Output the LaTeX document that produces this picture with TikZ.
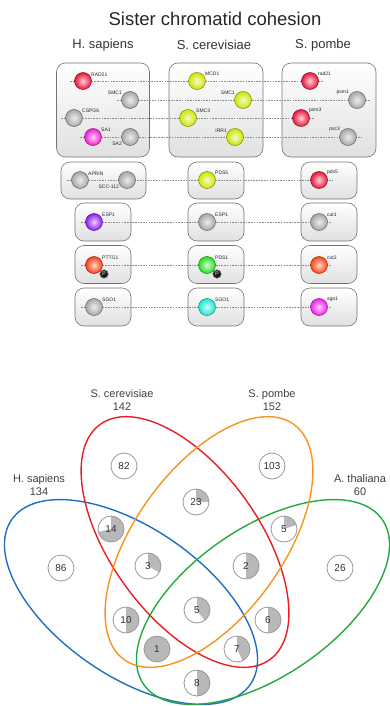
\documentclass[tikz,border=0pt]{standalone}
\usepackage{fontspec}
\setmainfont{Liberation Sans}
\usepackage{xcolor}
\usepackage{tikz}
\usetikzlibrary{shapes.geometric,positioning,calc,backgrounds}

\definecolor{cred}{HTML}{E8163C}
\definecolor{cgray}{HTML}{A6A6A6}
\definecolor{cmag}{HTML}{EE1ECF}
\definecolor{cyel}{HTML}{CDE600}
\definecolor{cviol}{HTML}{8A1EF0}
\definecolor{corg}{HTML}{FF3A14}
\definecolor{cgreen}{HTML}{22E01E}
\definecolor{ccyan}{HTML}{1EE6D2}
\definecolor{cpink}{HTML}{F01EEA}
\definecolor{hsblue}{HTML}{1E6FC3}
\definecolor{scred}{HTML}{E81E24}
\definecolor{sporange}{HTML}{F7931E}
\definecolor{atgreen}{HTML}{22AA3C}

\begin{document}
\begin{tikzpicture}[x=1pt, y=-1pt,
    panel/.style={draw=black!55, line width=0.6pt, rounded corners=9pt, top color=white, bottom color=black!12},
    ball/.style={circle, minimum size=17pt, inner sep=0pt, draw=#1!60!black, line width=0.5pt, inner color=#1!20!white, outer color=#1},
    lbl/.style={font=\fontsize{5}{6}\selectfont, inner sep=0.4pt, text=black!85},
    link/.style={draw=black!45, line width=0.5pt, dash pattern=on 1.6pt off 1.1pt},
    pbadge/.style={circle, fill=black!90, draw=black!50, line width=0.6pt, minimum size=8.5pt, inner sep=0pt, font=\fontsize{5.5}{6}\selectfont\bfseries, text=black!35},
    spec/.style={font=\fontsize{13}{15}\selectfont, text=black!80},
    set/.style={ellipse, draw, line width=1.4pt, minimum width=290pt, minimum height=148pt, inner sep=0pt},
    setlbl/.style={align=center, font=\fontsize{11}{13}\selectfont, text=black!75},
    count/.style={circle, draw=black!40, fill=white, line width=0.8pt, minimum size=26pt, inner sep=0pt, font=\fontsize{10}{12}\selectfont, text=black!80,
        path picture={\fill[black!28] (path picture bounding box.center) -- ++(90:14pt) arc[start angle=90, delta angle=-#1*360, radius=14pt] -- cycle;}},
    count/.default=0
]
    \useasboundingbox (0,0) rectangle (390,706);

    % Titles
    \node[font=\fontsize{18.5}{22}\selectfont, text=black!85] (title) at (215,19) {Sister chromatid cohesion};
    \node[spec] (hshead) at (103,45) {H. sapiens};
    \node[spec] (schead) at (214,45) {S. cerevisiae};
    \node[spec] (sphead) at (323,45) {S. pombe};

    % Cohesin complex
    \node[ball=cred, label={[lbl]30:RAD21}] (rad21h) at (83,81) {};
    \node[ball=cgray, label={[lbl]150:SMC1}] (smc1h) at (130,100) {};
    \node[ball=cgray, label={[lbl]30:CSPG6}] (cspg6h) at (74,118) {};
    \node[ball=cmag, label={[lbl]30:SA1}] (sa1h) at (93,137) {};
    \node[ball=cgray, label={[lbl]210:SA2}] (sa2h) at (130,137) {};

    \node[ball=cyel, label={[lbl]30:MCD1}] (mcd1c) at (197,81) {};
    \node[ball=cyel, label={[lbl]150:SMC1}] (smc1c) at (243,100) {};
    \node[ball=cyel, label={[lbl]30:SMC3}] (smc3c) at (188,118) {};
    \node[ball=cyel, label={[lbl]150:IRR1}] (irr1c) at (235,137) {};

    \node[ball=cred, label={[lbl]30:rad21}] (rad21p) at (310,81) {};
    \node[ball=cgray, label={[lbl]150:psm1}] (psm1p) at (357,100) {};
    \node[ball=cred, label={[lbl]30:psm3}] (psm3p) at (301,118) {};
    \node[ball=cgray, label={[lbl]150:psc3}] (psc3p) at (348,137) {};

    % Single factors
    \node[ball=cgray, label={[lbl]30:APRIN}] (aprinh) at (80,180) {};
    \node[ball=cgray, label={[lbl]210:SCC-112}] (scc112h) at (127,180) {};
    \node[ball=cyel, label={[lbl]30:PDS5}] (pds5c) at (207,180) {};
    \node[ball=cred, label={[lbl]30:pds5}] (pds5p) at (319,180) {};

    \node[ball=cviol, label={[lbl]30:ESP1}] (esp1h) at (94,222) {};
    \node[ball=cgray, label={[lbl]30:ESP1}] (esp1c) at (207,222) {};
    \node[ball=cgray, label={[lbl]30:cut1}] (cut1p) at (319,222) {};

    \node[ball=corg, label={[lbl]30:PTTG1}] (pttg1h) at (94,265) {};
    \node[ball=cgreen, label={[lbl]30:PDS1}] (pds1c) at (207,265) {};
    \node[ball=corg!85!orange, label={[lbl]30:cut2}] (cut2p) at (319,265) {};
    \node[pbadge] (pttgp) at (104,274) {P};
    \node[pbadge] (pds1p) at (217,274) {P};

    \node[ball=cgray, label={[lbl]30:SGO1}] (sgo1h) at (94,307) {};
    \node[ball=ccyan, label={[lbl]30:SGO1}] (sgo1c) at (207,307) {};
    \node[ball=cpink, label={[lbl]30:sgo1}] (sgo1p) at (319,307) {};

    % Boxes and orthologue lines
    \begin{pgfonlayer}{background}
        \node[panel, minimum width=93pt, minimum height=94pt] (hsbox) at (103,110) {};
        \node[panel, minimum width=94pt, minimum height=94pt] (scbox) at (216,110) {};
        \node[panel, minimum width=94pt, minimum height=94pt] (spbox) at (329,110) {};

        \node[panel, minimum width=85pt, minimum height=37pt] (hsbox2) at (103.5,180.5) {};
        \node[panel, minimum width=56pt, minimum height=37pt] (scbox2) at (216,180.5) {};
        \node[panel, minimum width=56pt, minimum height=37pt] (spbox2) at (329,180.5) {};
        \node[panel, minimum width=56pt, minimum height=38pt] (hsbox3) at (103,222) {};
        \node[panel, minimum width=56pt, minimum height=38pt] (scbox3) at (216,222) {};
        \node[panel, minimum width=56pt, minimum height=38pt] (spbox3) at (329,222) {};
        \node[panel, minimum width=56pt, minimum height=38pt] (hsbox4) at (103,264.5) {};
        \node[panel, minimum width=56pt, minimum height=38pt] (scbox4) at (216,264.5) {};
        \node[panel, minimum width=56pt, minimum height=38pt] (spbox4) at (329,264.5) {};
        \node[panel, minimum width=56pt, minimum height=38pt] (hsbox5) at (103,307) {};
        \node[panel, minimum width=56pt, minimum height=38pt] (scbox5) at (216,307) {};
        \node[panel, minimum width=56pt, minimum height=38pt] (spbox5) at (329,307) {};

        \draw[link] ([xshift=-13pt]rad21h.center) -- ([xshift=13pt]rad21p.center);
        \draw[link] ([xshift=-13pt]smc1h.center) -- ([xshift=13pt]psm1p.center);
        \draw[link] ([xshift=-13pt]cspg6h.center) -- ([xshift=13pt]psm3p.center);
        \draw[link] ([xshift=-13pt]sa1h.center) -- ([xshift=13pt]psc3p.center);
        \draw[link] ([xshift=-13pt]aprinh.center) -- ([xshift=13pt]pds5p.center);
        \draw[link] ([xshift=-13pt]esp1h.center) -- ([xshift=13pt]cut1p.center);
        \draw[link] ([xshift=-13pt]pttg1h.center) -- ([xshift=13pt]cut2p.center);
        \draw[link] ([xshift=-13pt]sgo1h.center) -- ([xshift=13pt]sgo1p.center);
    \end{pgfonlayer}

    % Venn diagram
    \node[set, draw=hsblue, rotate=-34.6] (hsset) at (131,602) {};
    \node[set, draw=atgreen, rotate=34.6] (atset) at (263,602) {};
    \node[set, draw=scred, rotate=-54.2] (scset) at (185,542) {};
    \node[set, draw=sporange, rotate=54.2] (spset) at (209,542) {};

    \node[setlbl] (sclbl) at (122,400.5) {S. cerevisiae\\142};
    \node[setlbl] (splbl) at (272,400.5) {S. pombe\\152};
    \node[setlbl] (hslbl) at (39,485.5) {H. sapiens\\134};
    \node[setlbl] (atlbl) at (360,485.5) {A. thaliana\\60};

    % Counts
    \node[count] (n82) at (124,466) {82};
    \node[count] (n103) at (272,466) {103};
    \node[count=0.25] (n23) at (196,502) {23};
    \node[count=0.714] (n14) at (111,529) {14};
    \node[count=0.2] (n5a) at (284,529) {5};
    \node[count] (n86) at (61,568) {86};
    \node[count=0.333] (n3) at (148,566) {3};
    \node[count=0.5] (n2) at (246,566) {2};
    \node[count] (n26) at (340,568) {26};
    \node[count=0.4] (n5b) at (197,610) {5};
    \node[count=0.5] (n10) at (126,620) {10};
    \node[count=0.5] (n6) at (268,620) {6};
    \node[count=1] (n1) at (157,649) {1};
    \node[count=0.4286] (n7) at (237,649) {7};
    \node[count=0.5] (n8) at (197,683) {8};
\end{tikzpicture}
\end{document}
